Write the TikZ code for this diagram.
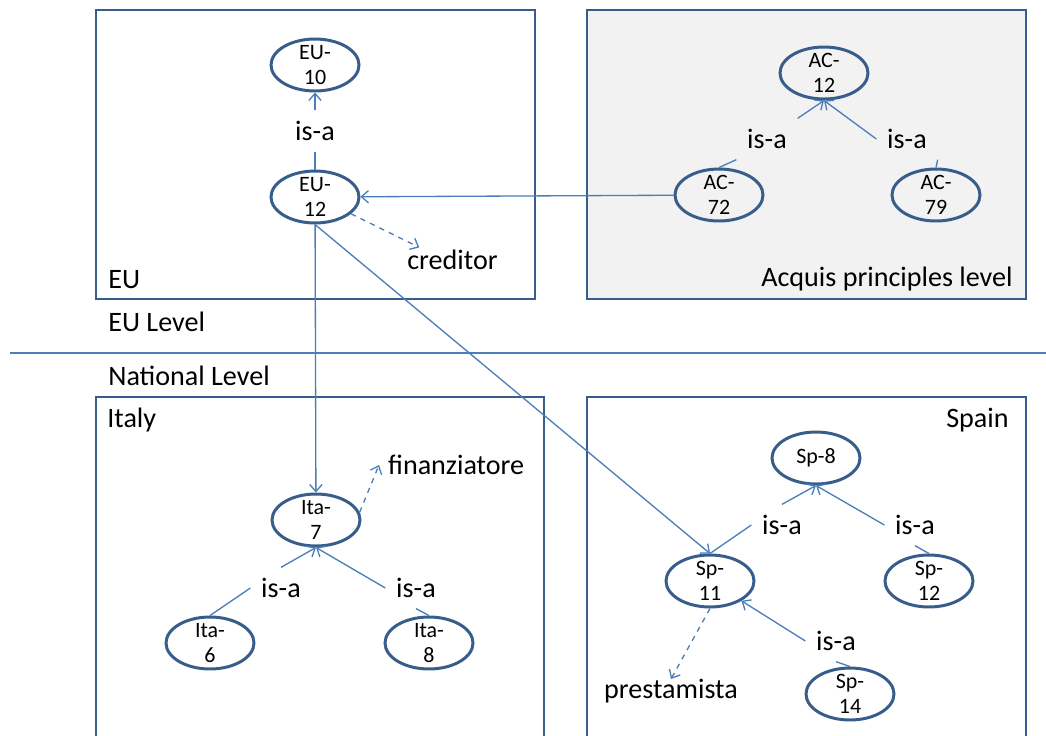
\documentclass[tikz,border=0pt]{standalone}
\usepackage{fontspec}
\setmainfont{Carlito}
\usetikzlibrary{shapes.geometric,arrows.meta}

\definecolor{boxblue}{HTML}{385D8A}
\definecolor{lineblue}{HTML}{4A7EBB}
\definecolor{panelgray}{HTML}{F2F2F2}

\tikzset{
  concept/.style={ellipse, draw=boxblue, line width=1.7pt, minimum width=1.76cm,
    minimum height=1.04cm, inner xsep=0pt, inner ysep=-1.5pt, align=center,
    font=\fontsize{12.5}{14.6}\selectfont},
  panel/.style={draw=boxblue, line width=1.6pt},
  lbl/.style={font=\fontsize{16}{19}\selectfont, inner xsep=6pt, inner ysep=6pt},
  txt/.style={font=\fontsize{16}{19}\selectfont, inner sep=0pt},
  term/.style={font=\fontsize{16}{19}\selectfont, inner sep=5pt},
  link/.style={draw=lineblue, line width=0.75pt},
}

\begin{document}
\begin{tikzpicture}[x=0.02cm, y=-0.02cm, >={Straight Barb[length=4pt,width=7pt]}]
    \useasboundingbox (0,0) rectangle (1046,735);

    % panels
    \draw[panel] (96,10) rectangle (535,299);
    \draw[panel, fill=panelgray] (587,10) rectangle (1026,299);
    \draw[panel] (96,760) -- (96,397) -- (544,397) -- (544,760);
    \draw[panel] (587,760) -- (587,397) -- (1026,397) -- (1026,760);
    \draw[lineblue, line width=0.6pt] (10,353) -- (1046,353);

    % panel and level texts
    \node[txt, anchor=base west] (eutitle) at (108,288) {EU};
    \node[txt, anchor=base east] (actitle) at (1013,286) {Acquis principles level};
    \node[txt, anchor=base west] (eulevel) at (108,331) {EU Level};
    \node[txt, anchor=base west] (natlevel) at (108,385) {National Level};
    \node[txt, anchor=base west] (ittitle) at (107,427) {Italy};
    \node[txt, anchor=base east] (sptitle) at (1009,427) {Spain};

    % concepts
    \node[concept] (eu10) at (315,65) {EU-\\10};
    \node[concept] (eu12) at (315,197) {EU-\\12};
    \node[concept] (ac12) at (824,73) {AC-\\12};
    \node[concept] (ac72) at (719,195) {AC-\\72};
    \node[concept] (ac79) at (936,195) {AC-\\79};
    \node[concept] (ita7) at (316,520) {Ita-\\7};
    \node[concept] (ita6) at (210,643) {Ita-\\6};
    \node[concept] (ita8) at (429,643) {Ita-\\8};
    \node[concept] (sp8) at (816,458) {Sp-8};
    \node[concept] (sp11) at (710,581) {Sp-\\11};
    \node[concept] (sp12) at (929,581) {Sp-\\12};
    \node[concept] (sp14) at (850,694) {Sp-\\14};

    % labels
    \node[lbl] (isaeu) at (315,131) {is-a};
    \node[lbl] (isaac1) at (767,139) {is-a};
    \node[lbl] (isaac2) at (907,139) {is-a};
    \node[lbl] (isait1) at (281,588) {is-a};
    \node[lbl] (isait2) at (416,588) {is-a};
    \node[lbl] (isasp1) at (782,525) {is-a};
    \node[lbl] (isasp2) at (915,525) {is-a};
    \node[lbl] (isasp3) at (836,641) {is-a};
    \node[txt, anchor=base west] (creditor) at (407,269) {creditor};
    \node[term, anchor=west] (finanz) at (379,465) {finanziatore};
    \node[txt, anchor=north] (prest) at (671,679) {prestamista};

    % is-a links
    \draw[link] (eu12) -- (isaeu);
    \draw[link,->] (isaeu) -- (eu10);
    \draw[link] (ac72.north) -- (isaac1.south west);
    \draw[link,->] (isaac1.north east) -- (ac12.south);
    \draw[link] (isaac2.south east) -- (ac79.north);
    \draw[link,->] (isaac2.west) -- (ac12.south);
    \draw[link] (ita6.north) -- (isait1.west);
    \draw[link,->] (isait1.north) -- (ita7.south);
    \draw[link] (isait2.south) -- (ita8.north);
    \draw[link,->] (isait2.west) -- (ita7.south);
    \draw[link] (sp11.north) -- (isasp1.west);
    \draw[link,->] (isasp1.north) -- (sp8.south);
    \draw[link] (isasp2.south) -- (sp12.north);
    \draw[link,->] (isasp2.west) -- (sp8.south);
    \draw[link] (isasp3.south) -- (sp14.north);
    \draw[link,->] (isasp3.west) -- (sp11);

    % mappings
    \draw[link,->] (ac72) -- (eu12);
    \draw[link,->] (eu12) -- (ita7);
    \draw[link,->] (eu12.south) -- (sp11.north);
    \draw[link,->,dashed] (eu12.-25) -- ([xshift=7pt,yshift=1pt]creditor.north west);
    \draw[link,->,dashed] (ita7.10) -- (finanz.west);
    \draw[link,->,dashed] (sp11.south) -- (prest.north);

\end{tikzpicture}
\end{document}
